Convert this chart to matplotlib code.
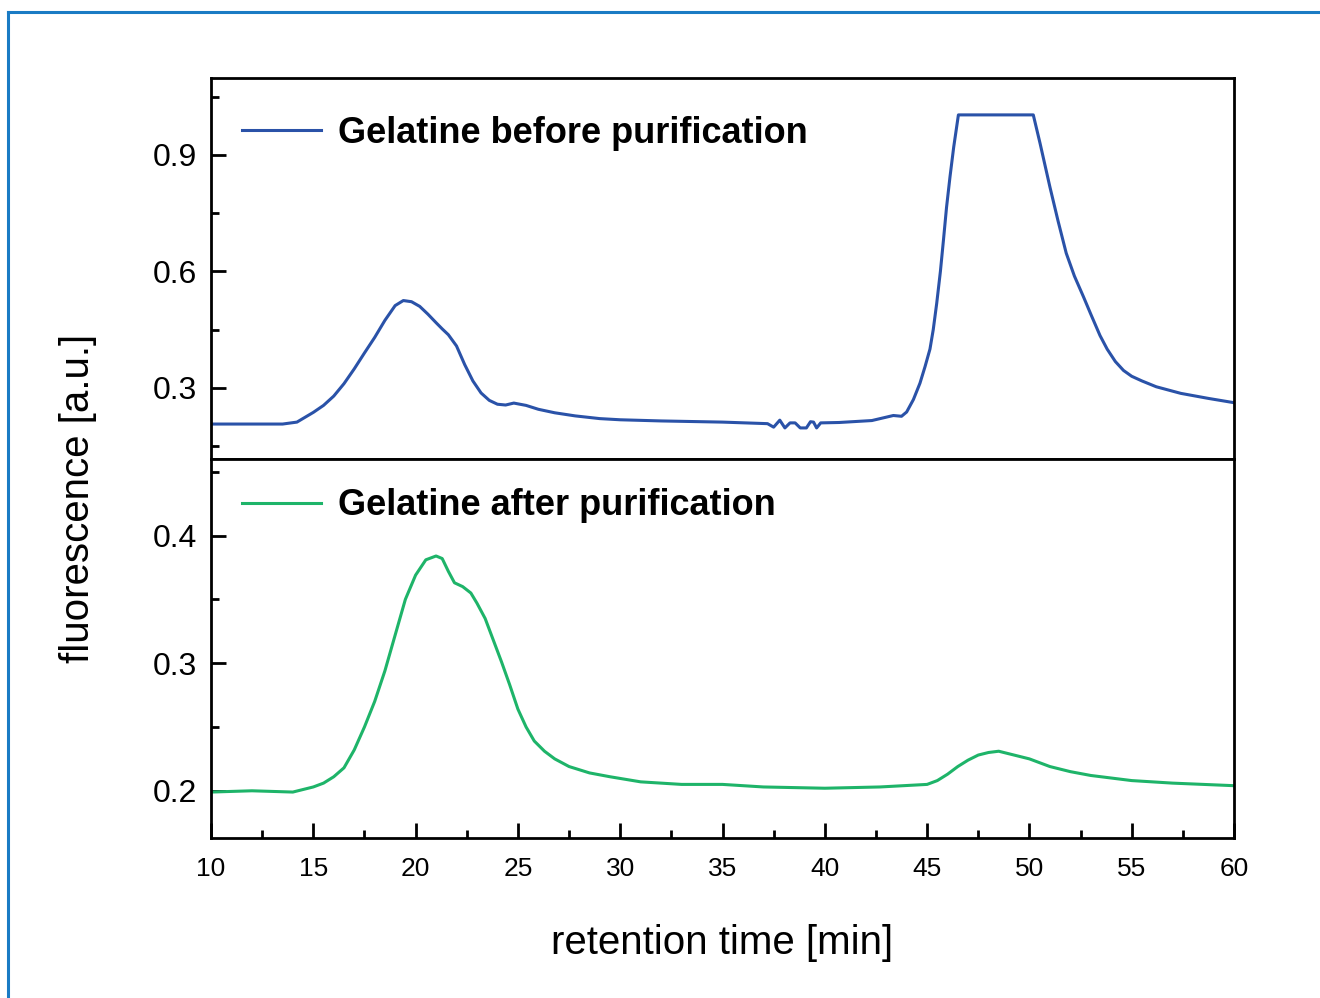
import numpy as np
import matplotlib
matplotlib.use('Agg')
import matplotlib.pyplot as plt
from matplotlib.lines import Line2D

plt.rcParams['font.family'] = ['Liberation Sans', 'DejaVu Sans']

# retention time [min] / fluorescence [a.u.]
t_before = [10, 12, 13.5, 14.2, 15.0, 15.5, 16.0, 16.5, 17.0, 17.5, 18.0, 18.5, 19.0,
            19.4, 19.8, 20.2, 20.6, 21.0, 21.3, 21.6, 22.0, 22.4, 22.8, 23.2, 23.6,
            24.0, 24.4, 24.8, 25.4, 26.0, 26.8, 27.8, 29, 30, 32, 35,
            37.2, 37.5, 37.8, 38.05, 38.3, 38.55, 38.8, 39.1, 39.3, 39.45, 39.6,
            39.8, 40.7, 42.3, 43.35, 43.75, 44.0, 44.33, 44.65, 44.9, 45.14, 45.3,
            45.47, 45.65, 45.8, 45.95, 46.12, 46.3, 46.53, 50.19, 50.52, 51.0, 51.4,
            51.8, 52.2, 52.64, 53.0, 53.45, 53.8, 54.2, 54.6, 55.0, 55.5, 56.2, 57.4,
            58.75, 60]
f_before = [0.207, 0.207, 0.207, 0.212, 0.237, 0.255, 0.279, 0.311, 0.349, 0.39,
            0.43, 0.474, 0.512, 0.525, 0.522, 0.51, 0.49, 0.468, 0.452, 0.437, 0.408,
            0.36, 0.318, 0.287, 0.268, 0.258, 0.256, 0.261, 0.255, 0.245, 0.236,
            0.228, 0.221, 0.218, 0.215, 0.212, 0.208, 0.199, 0.217, 0.197, 0.21,
            0.21, 0.197, 0.197, 0.213, 0.212, 0.197, 0.21, 0.211, 0.216, 0.229,
            0.227, 0.238, 0.27, 0.312, 0.355, 0.4, 0.45, 0.518, 0.6, 0.681, 0.765,
            0.844, 0.92, 1.003, 1.003, 0.93, 0.818, 0.73, 0.647, 0.588, 0.535, 0.49,
            0.435, 0.4, 0.368, 0.345, 0.33, 0.318, 0.303, 0.286, 0.273, 0.262]

t_after = [10, 12, 14.0, 15.0, 15.5, 16.0, 16.5, 17.0, 17.5, 18.0, 18.5, 19.0, 19.5,
           20.0, 20.5, 21.0, 21.3, 21.6, 21.9, 22.3, 22.7, 23.0, 23.4, 23.8, 24.2,
           24.6, 25.0, 25.4, 25.8, 26.3, 26.8, 27.5, 28.5, 29.5, 31, 33, 35, 37, 40,
           42.7, 45, 45.5, 46, 46.5, 47, 47.5, 48, 48.5, 49, 49.5, 50, 50.5, 51, 52,
           53, 54, 55, 57, 60]
f_after = [0.199, 0.2, 0.199, 0.203, 0.206, 0.211, 0.218, 0.232, 0.25, 0.27, 0.294,
           0.322, 0.35, 0.369, 0.381, 0.384, 0.382, 0.372, 0.363, 0.36, 0.355, 0.347,
           0.335, 0.318, 0.301, 0.283, 0.264, 0.25, 0.239, 0.231, 0.225, 0.219,
           0.214, 0.211, 0.207, 0.205, 0.205, 0.203, 0.202, 0.203, 0.205, 0.208,
           0.213, 0.219, 0.224, 0.228, 0.23, 0.231, 0.229, 0.227, 0.225, 0.222,
           0.219, 0.215, 0.212, 0.21, 0.208, 0.206, 0.204]

x_major = [10, 15, 20, 25, 30, 35, 40, 45, 50, 55, 60]
x_minor = [12.5, 17.5, 22.5, 27.5, 32.5, 37.5, 42.5, 47.5, 52.5, 57.5]

blue = '#2a52a8'
green = '#1eb469'

fig = plt.figure(figsize=(13.2, 9.98), dpi=100)
fig.patch.set_facecolor('white')

ax_top = fig.add_axes([211 / 1320, 1 - 459 / 998, 1023 / 1320, 381 / 998])
ax_bot = fig.add_axes([211 / 1320, 1 - 838 / 998, 1023 / 1320, 379 / 998])

ax_top.plot(t_before, f_before, color=blue, lw=2.2, label='Gelatine before purification')
ax_bot.plot(t_after, f_after, color=green, lw=2.2, label='Gelatine after purification')

ax_top.set_xlim(10, 60)
ax_top.set_ylim(0.117, 1.098)
ax_top.set_yticks([0.3, 0.6, 0.9])
ax_top.set_yticklabels(['0.3', '0.6', '0.9'])
ax_top.set_yticks([0.15, 0.45, 0.75, 1.05], minor=True)
ax_top.tick_params(axis='x', which='both', bottom=False, labelbottom=False)

ax_bot.set_xlim(10, 60)
ax_bot.set_ylim(0.163, 0.46)
ax_bot.set_yticks([0.2, 0.3, 0.4])
ax_bot.set_yticklabels(['0.2', '0.3', '0.4'])
ax_bot.set_yticks([0.25, 0.35, 0.45], minor=True)
ax_bot.set_xticks(x_major)
ax_bot.set_xticklabels([str(v) for v in x_major])
ax_bot.set_xticks(x_minor, minor=True)

for ax in (ax_top, ax_bot):
    for s in ax.spines.values():
        s.set_linewidth(2)
    ax.tick_params(which='major', direction='in', length=11, width=2)
    ax.tick_params(which='minor', direction='in', length=6, width=2)
    ax.tick_params(axis='y', labelsize=23, pad=10)
    ax.tick_params(axis='x', labelsize=19, pad=13.5)
    ax.legend(loc='center left', frameon=False,
              bbox_to_anchor=(31 / 1023, 0.8556 if ax is ax_top else 0.876),
              prop={'weight': 'bold', 'size': 26}, handlelength=2.2,
              handletextpad=0.47, borderpad=0, borderaxespad=0)

fig.text(78 / 1320, 1 - 498 / 998, 'fluorescence [a.u.]', rotation=90,
         ha='center', va='center', fontsize=29)
fig.text(722 / 1320, 1 - 943 / 998, 'retention time [min]',
         ha='center', va='center', fontsize=29)

# thin blue frame around the figure (top and left edges)
frame = '#1a7bc4'
fig.add_artist(Line2D([8 / 1320, 8 / 1320], [0, 1 - 12 / 998], transform=fig.transFigure,
                      color=frame, lw=2.2))
fig.add_artist(Line2D([8 / 1320, 1], [1 - 12 / 998, 1 - 12 / 998], transform=fig.transFigure,
                      color=frame, lw=2.2))

fig.savefig('out.png', dpi=100)
